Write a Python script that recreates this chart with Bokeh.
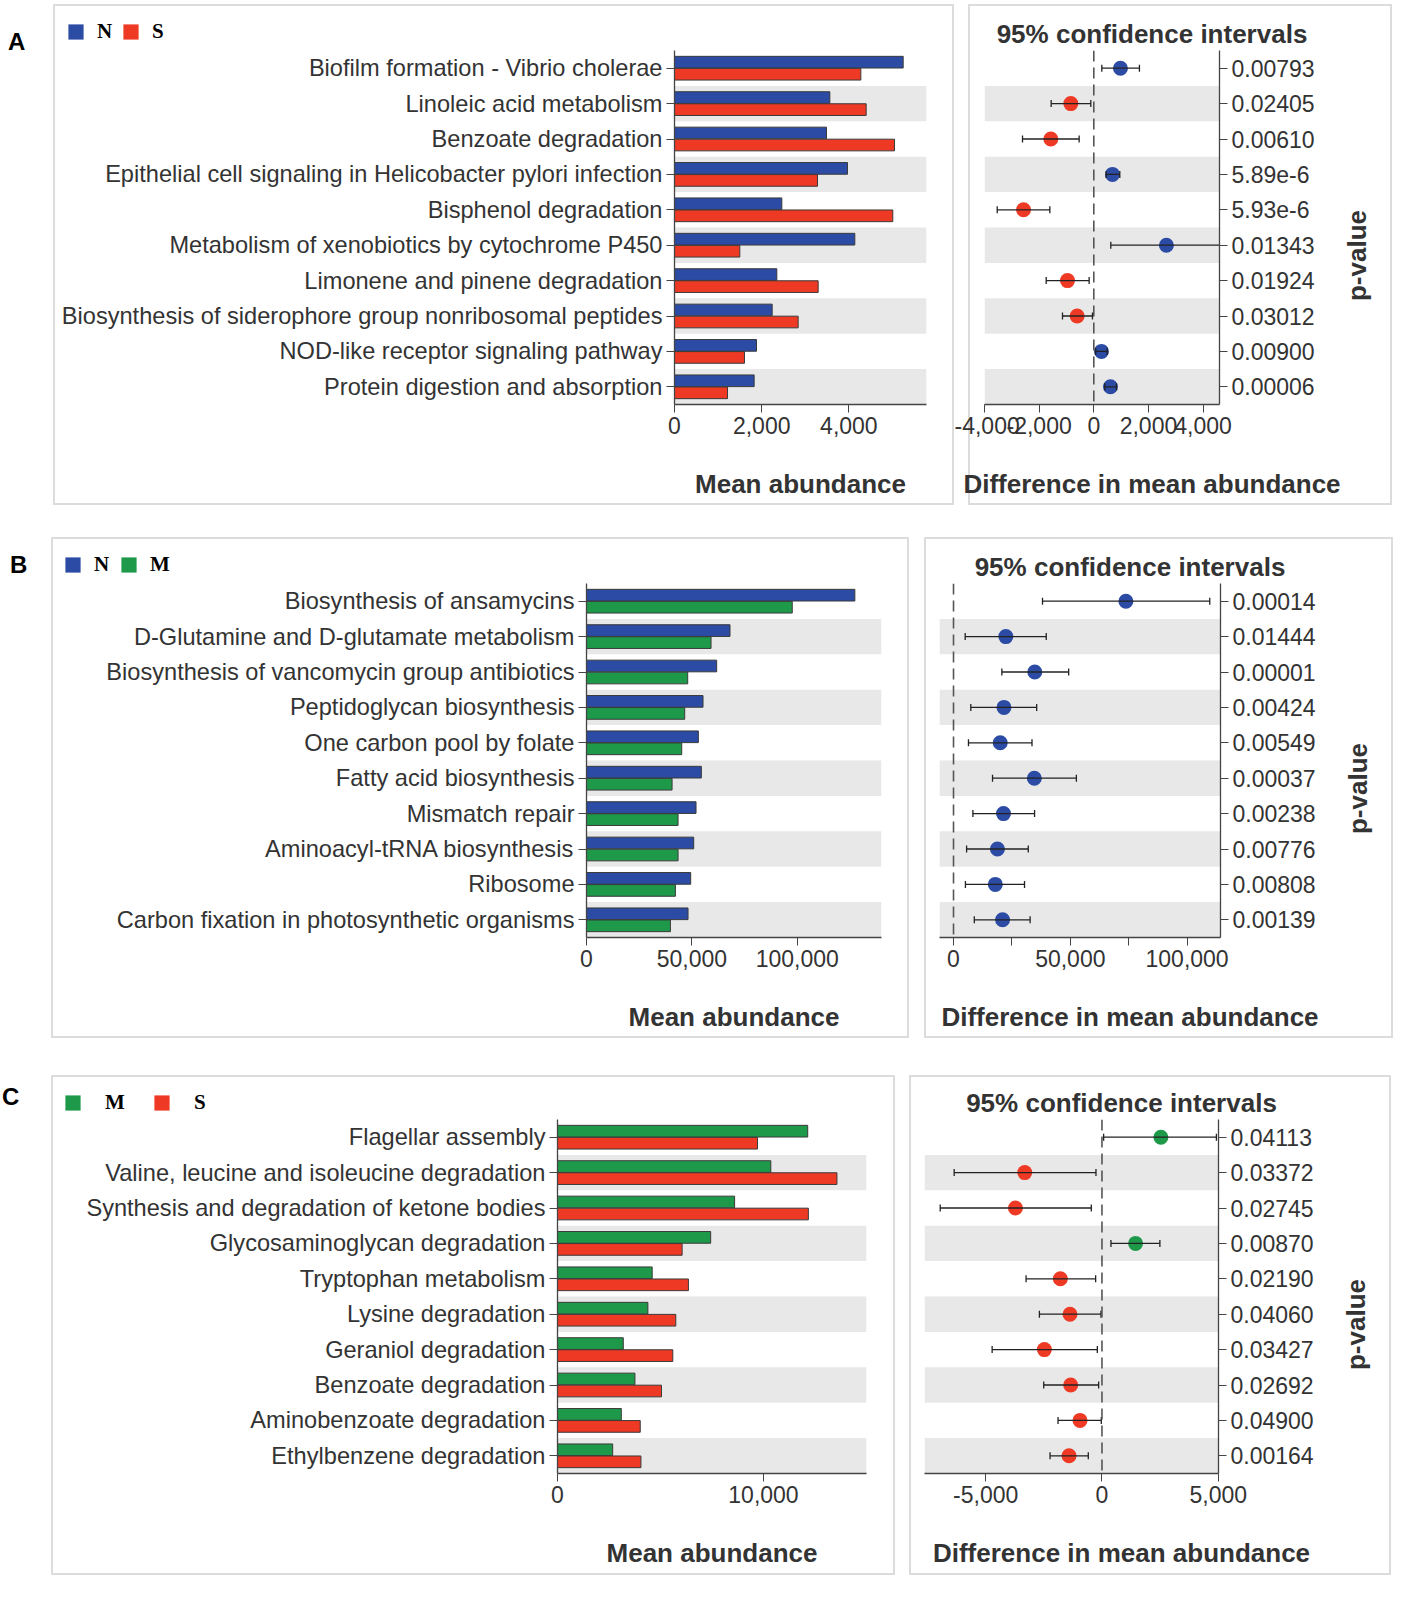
import math
from bokeh.plotting import figure
from bokeh.models import (ColumnDataSource, FactorRange, Range1d, Legend, LegendItem, Span, Label,
                          FixedTicker, NumeralTickFormatter, Div, Spacer)
from bokeh.layouts import row, column
from bokeh.transform import dodge
from bokeh.embed import file_html
from bokeh.resources import INLINE

BLUE = "#2b4ba5"
RED = "#ee3a24"
GREEN = "#1e994a"
BAND = "#e8e8e8"
OUT = "#3a3a3a"
TXT = "#333333"
FONT = "Liberation Sans"

# ---------------- Panel A data ----------------
a_cats = ["Biofilm formation - Vibrio cholerae", "Linoleic acid metabolism", "Benzoate degradation",
          "Epithelial cell signaling in Helicobacter pylori infection", "Bisphenol degradation",
          "Metabolism of xenobiotics by cytochrome P450", "Limonene and pinene degradation",
          "Biosynthesis of siderophore group nonribosomal peptides", "NOD-like receptor signaling pathway",
          "Protein digestion and absorption"]
a_n = [5245, 3563, 3486, 3968, 2462, 4136, 2347, 2240, 1881, 1827]
a_s = [4274, 4396, 5046, 3280, 5007, 1498, 3295, 2836, 1605, 1216]
a_p = ["0.00793", "0.02405", "0.00610", "5.89e-6", "5.93e-6", "0.01343", "0.01924", "0.03012", "0.00900", "0.00006"]
a_diff = [975, -841, -1573, 683, -2572, 2657, -963, -610, 280, 610]
a_lo = [293, -1560, -2609, 451, -3535, 622, -1743, -1146, 70, 402]
a_hi = [1670, -110, -536, 951, -1609, 4700, -171, -49, 490, 829]

# ---------------- Panel B data ----------------
b_cats = ["Biosynthesis of ansamycins", "D-Glutamine and D-glutamate metabolism",
          "Biosynthesis of vancomycin group antibiotics", "Peptidoglycan biosynthesis",
          "One carbon pool by folate", "Fatty acid biosynthesis", "Mismatch repair",
          "Aminoacyl-tRNA biosynthesis", "Ribosome", "Carbon fixation in photosynthetic organisms"]
b_n = [127350, 68100, 61780, 55300, 53090, 54510, 51980, 50880, 49450, 48190]
b_m = [97650, 59100, 48030, 46610, 45190, 40610, 43450, 43450, 42190, 39820]
b_p = ["0.00014", "0.01444", "0.00001", "0.00424", "0.00549", "0.00037", "0.00238", "0.00776", "0.00808", "0.00139"]
b_diff = [73800, 22400, 34800, 21600, 20000, 34600, 21400, 18800, 17900, 21000]
b_lo = [38100, 5000, 20700, 7400, 6400, 16700, 8300, 5600, 5100, 8900]
b_hi = [109700, 39700, 49300, 35600, 33600, 52600, 34700, 32000, 30400, 32800]

# ---------------- Panel C data ----------------
c_cats = ["Flagellar assembly", "Valine, leucine and isoleucine degradation",
          "Synthesis and degradation of ketone bodies", "Glycosaminoglycan degradation",
          "Tryptophan metabolism", "Lysine degradation", "Geraniol degradation",
          "Benzoate degradation", "Aminobenzoate degradation", "Ethylbenzene degradation"]
c_m = [12146, 10355, 8597, 7436, 4597, 4387, 3194, 3758, 3097, 2678]
c_s = [9710, 13565, 12178, 6049, 6355, 5742, 5597, 5049, 4016, 4049]
c_p = ["0.04113", "0.03372", "0.02745", "0.00870", "0.02190", "0.04060", "0.03427", "0.02692", "0.04900", "0.00164"]
c_diff = [2533, -3320, -3720, 1445, -1789, -1374, -2476, -1345, -944, -1416]
c_lo = [72, -6354, -6955, 386, -3263, -2690, -4722, -2504, -1889, -2232]
c_hi = [4920, -258, -458, 2490, -272, -43, -200, -143, -29, -588]

FH = 354      # frame height (10 rows)
AXB = 44      # bottom border of main figures (x axis)
PW = 68       # width of the strip holding the "p-value" label
BOXC = "#dcdcdc"
T = 2


def no_align(p):
    try:
        p.frame_align = False
    except Exception:
        pass
    return p


def box_css(W, H, bx=0, left=True, right=True, top=False, bottom=False):
    g = f"linear-gradient({BOXC}, {BOXC})"
    imgs, sizes, poss = [], [], []
    bw = W - bx
    if left:
        imgs.append(g); sizes.append(f"{T}px {H}px"); poss.append(f"{bx}px 0px")
    if right:
        imgs.append(g); sizes.append(f"{T}px {H}px"); poss.append(f"{W - T}px 0px")
    if top:
        imgs.append(g); sizes.append(f"{bw}px {T}px"); poss.append(f"{bx}px 0px")
    if bottom:
        imgs.append(g); sizes.append(f"{bw}px {T}px"); poss.append(f"{bx}px {H - T}px")
    return {"background-image": ", ".join(imgs), "background-size": ", ".join(sizes),
            "background-position": ", ".join(poss), "background-repeat": "no-repeat"}


def strip(W, Hs, **box):
    p = figure(width=W, height=Hs, x_range=Range1d(0, W), y_range=Range1d(0, Hs),
               output_backend="svg", toolbar_location=None, x_axis_location=None, y_axis_location=None,
               min_border=0, border_fill_color=None, background_fill_color=None,
               styles=box_css(W, Hs, **box))
    p.outline_line_color = None
    p.grid.visible = False
    return no_align(p)


def bold_label(x, y, text, angle=0):
    return Label(x=x, y=y, text=text, text_align="center", text_baseline="middle", angle=angle,
                 text_font=FONT, text_font_style="bold", text_font_size="26px", text_color=TXT)


def style_x(ax, ticks, minor=None):
    ax.ticker = FixedTicker(ticks=ticks, minor_ticks=minor or [])
    ax.formatter = NumeralTickFormatter(format="0,0")
    ax.major_label_text_font = FONT
    ax.major_label_text_font_size = "23px"
    ax.major_label_text_color = TXT
    ax.major_tick_out = 8
    ax.major_tick_in = 0
    ax.minor_tick_out = 8 if minor else 0
    ax.minor_tick_in = 0
    ax.major_label_standoff = 4
    ax.axis_line_color = "#444444"
    ax.major_tick_line_color = "#444444"
    ax.minor_tick_line_color = "#444444"
    ax.axis_line_width = 1.3


def style_y(ax, size="23px"):
    ax.major_label_text_font = FONT
    ax.major_label_text_font_size = size
    ax.major_label_text_color = TXT
    ax.major_tick_out = 8
    ax.major_tick_in = 0
    ax.minor_tick_out = 0
    ax.major_label_standoff = 4
    ax.axis_line_color = "#444444"
    ax.major_tick_line_color = "#444444"
    ax.axis_line_width = 1.3


def bar_panel(cats, v1, v2, c1, c2, n1, n2, xmax, ticks, W, bl, br, ht, hb, leg_x, standoff, spacing):
    # top strip with legend; the legend renderers carry the first series value, which lies
    # far outside this strip's pixel ranges, so they draw nothing there
    top = strip(W, ht, top=True)
    s1 = ColumnDataSource(dict(v=v1[:1]))
    s2 = ColumnDataSource(dict(v=v2[:1]))
    e1 = top.hbar(y="v", left="v", right="v", height=0.3, fill_color=c1, line_color=None, source=s1)
    e2 = top.hbar(y="v", left="v", right="v", height=0.3, fill_color=c2, line_color=None, source=s2)
    leg = Legend(items=[LegendItem(label=n1, renderers=[e1]), LegendItem(label=n2, renderers=[e2])],
                 location=(leg_x, ht - 16 - 24), orientation="horizontal", padding=0, margin=0,
                 border_line_color=None, background_fill_alpha=0,
                 glyph_width=19, glyph_height=19, label_height=24,
                 label_standoff=standoff, spacing=spacing,
                 label_text_font="Liberation Serif", label_text_font_style="bold",
                 label_text_font_size="21px", label_text_color="black")
    top.add_layout(leg)

    # main figure
    yr = FactorRange(factors=list(reversed(cats)))
    xr = Range1d(0, xmax)
    p = figure(width=W, height=FH + AXB, x_range=xr, y_range=yr, output_backend="svg", toolbar_location=None,
               min_border_left=bl, min_border_right=br, min_border_top=0, min_border_bottom=AXB,
               border_fill_color=None, background_fill_color="white",
               styles=box_css(W, FH + AXB))
    no_align(p)
    p.grid.visible = False
    p.outline_line_color = None
    src = ColumnDataSource(dict(cat=cats, v1=v1, v2=v2))
    p.hbar(y=cats[1::2], left=xr.start, right=xr.end, height=1, fill_color=BAND, line_color=None)
    p.hbar(y=dodge("cat", 0.17, range=yr), left=0, right="v1", height=0.33, source=src,
           fill_color=c1, line_color=OUT, line_width=1)
    p.hbar(y=dodge("cat", -0.17, range=yr), left=0, right="v2", height=0.33, source=src,
           fill_color=c2, line_color=OUT, line_width=1)
    style_x(p.xaxis[0], ticks)
    style_y(p.yaxis[0], "23.6px")

    # bottom strip with x label
    fw = W - bl - br
    bot = strip(W, hb, bottom=True)
    bot.add_layout(bold_label(bl + fw / 2, hb - 35, "Mean abundance"))
    return column(top, p, bot)


def ci_panel(pv, diff, lo, hi, pos_col, neg_col, xs, xe, ticks, minor, W, bx, bl, br, ht, hb):
    fw = W - bl - br
    cx = bl + fw / 2 + 50
    top = strip(W, ht, bx=bx, top=True)
    top.add_layout(bold_label(cx, 17, "95% confidence intervals"))

    WM = W - PW
    yr = FactorRange(factors=list(reversed(pv)))
    xr = Range1d(xs, xe)
    p = figure(width=WM, height=FH + AXB, x_range=xr, y_range=yr, output_backend="svg", toolbar_location=None,
               y_axis_location="right",
               min_border_left=bl, min_border_right=br - PW, min_border_top=0, min_border_bottom=AXB,
               border_fill_color=None, background_fill_color="white",
               styles=box_css(WM, FH + AXB, bx=bx, right=False))
    no_align(p)
    p.grid.visible = False
    p.outline_line_color = None
    cols = [pos_col if d > 0 else neg_col for d in diff]
    src = ColumnDataSource(dict(p=pv, d=diff, lo=lo, hi=hi, c=cols))
    p.hbar(y=pv[1::2], left=xr.start, right=xr.end, height=1, fill_color=BAND, line_color=None)
    p.add_layout(Span(location=0, dimension="height", line_color="#555555", line_width=1.6, line_dash="11 6"))
    p.scatter(x="d", y="p", size=15, fill_color="c", line_color=None, source=src)
    p.segment(x0="lo", y0="p", x1="hi", y1="p", line_color="#222222", line_width=1.3, source=src)
    p.scatter(x="lo", y="p", marker="dash", angle=math.pi / 2, size=7, line_color="#222222",
              line_width=1.3, source=src)
    p.scatter(x="hi", y="p", marker="dash", angle=math.pi / 2, size=7, line_color="#222222",
              line_width=1.3, source=src)
    style_x(p.xaxis[0], ticks, minor)
    style_y(p.yaxis[0])

    ps = strip(PW, FH + AXB, left=False)
    ps.add_layout(bold_label(32, FH + AXB - 205, "p-value", angle=math.pi / 2))

    bot = strip(W, hb, bx=bx, bottom=True)
    bot.add_layout(bold_label(cx, hb - 35, "Difference in mean abundance"))
    return column(top, row(p, ps), bot)


def letter(t, w, h, pad_top, pad_left):
    return Div(text=f'<div style="font-family:\'Liberation Sans\',Arial,sans-serif;font-weight:bold;'
                    f'font-size:24px;line-height:1.15;color:#000;padding-top:{pad_top}px;'
                    f'padding-left:{pad_left}px;">{t}</div>',
               width=w, height=h, margin=0)


# Row A  (box 4..505)
pa1 = bar_panel(a_cats, a_n, a_s, BLUE, RED, "N", "S", 5780, [0, 2000, 4000],
                901, 621, 28, 46, 57, 13, 12, 4)
pa2 = ci_panel(a_p, a_diff, a_lo, a_hi, BLUE, RED, -4000, 4600, [-4000, -2000, 0, 2000, 4000], None,
               438, 14, 30, 173, 46, 57)
# Row B  (box 537..1038)
pb1 = bar_panel(b_cats, b_n, b_m, BLUE, GREEN, "N", "M", 140000, [0, 50000, 100000],
                858, 535, 28, 46, 57, 12, 12, 5)
pb2 = ci_panel(b_p, b_diff, b_lo, b_hi, BLUE, RED, -6000, 114300, [0, 50000, 100000], [25000, 75000],
               484, 15, 30, 173, 46, 57)
# Row C  (box 1075..1575)
pc1 = bar_panel(c_cats, c_m, c_s, GREEN, RED, "M", "S", 15000, [0, 10000],
                844, 506, 29, 44, 58, 12, 23, 27)
pc2 = ci_panel(c_p, c_diff, c_lo, c_hi, GREEN, RED, -7630, 5010, [-5000, 0, 5000], None,
               496, 14, 29, 173, 44, 58)

layout = column(
    Spacer(height=4),
    row(letter("A", 53, 501, 24, 8), pa1, pa2),
    Spacer(height=32),
    row(letter("B", 51, 501, 14, 10), pb1, pb2),
    Spacer(height=37),
    row(letter("C", 51, 500, 8, 2), pc1, pc2),
)

open("out.html", "w").write(file_html(layout, INLINE))
